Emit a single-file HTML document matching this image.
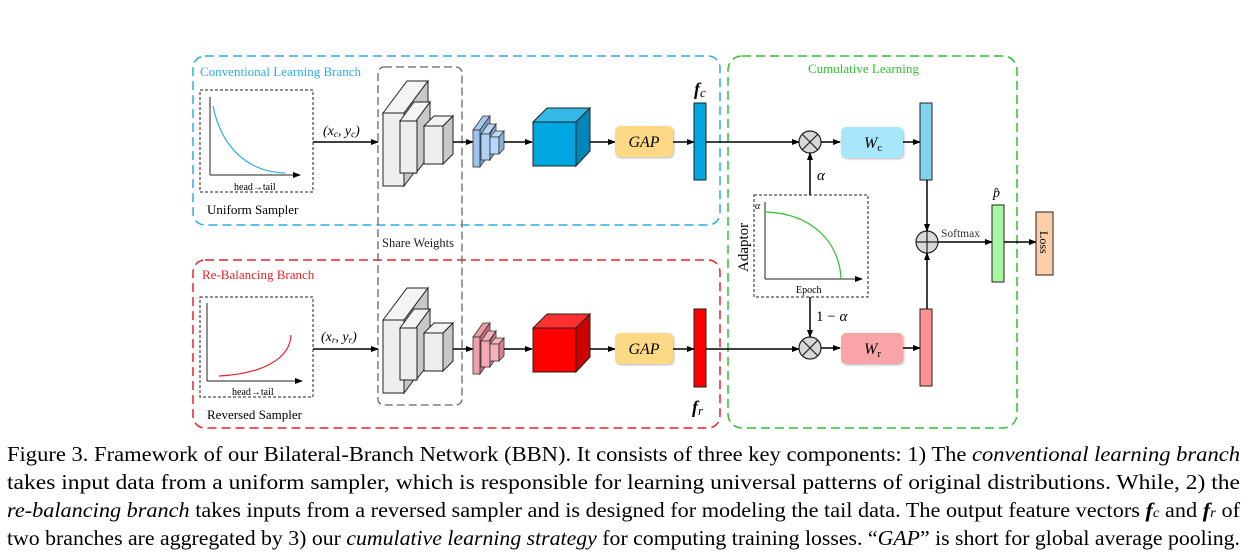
<!DOCTYPE html>
<html><head><meta charset="utf-8"><style>
html,body{margin:0;padding:0;background:#fff;width:1258px;height:557px;overflow:hidden}
svg{display:block}
svg, svg text{font-family:"Liberation Serif","Times New Roman",Times,serif}
</style></head><body>
<svg width="1258" height="557" viewBox="0 0 1258 557" xmlns="http://www.w3.org/2000/svg" font-family="Liberation Serif, Times New Roman, serif">
<defs>
<marker id="ar" markerWidth="8" markerHeight="6" refX="7" refY="3" orient="auto" markerUnits="userSpaceOnUse"><path d="M0,0 L8,3 L0,6 z" fill="#000"/></marker>
<filter id="sh"><feDropShadow dx="1" dy="1" stdDeviation="1" flood-opacity="0.3"/></filter>
</defs>
<rect x="193" y="56" width="527" height="169" rx="12" fill="none" stroke="#29aee6" stroke-width="1.5" stroke-dasharray="9,5"/>
<rect x="193" y="260" width="527" height="168" rx="12" fill="none" stroke="#e8202a" stroke-width="1.5" stroke-dasharray="9,5"/>
<rect x="728" y="56" width="289" height="372" rx="14" fill="none" stroke="#2ec12e" stroke-width="1.5" stroke-dasharray="9,5"/>
<rect x="378" y="67" width="84" height="338" rx="6" fill="none" stroke="#666" stroke-width="1.3" stroke-dasharray="8,4"/>
<text x="200" y="76" font-size="13" fill="#29aee6">Conventional Learning Branch</text>
<text x="202" y="279" font-size="13" fill="#e8202a">Re-Balancing Branch</text>
<text x="808" y="73" font-size="13" fill="#2ec12e">Cumulative Learning</text>
<text x="382" y="247" font-size="12.5" fill="#222">Share Weights</text>

<rect x="200" y="90" width="113" height="102" fill="none" stroke="#222" stroke-dasharray="3,2"/>
<line x1="210" y1="175" x2="300" y2="175" stroke="#222" marker-end="url(#ar)"/>
<line x1="210" y1="175" x2="210" y2="97" stroke="#222"/>
<path d="M213,106 C222,150 250,172 285,173" fill="none" stroke="#29aee6" stroke-width="1.2"/>
<text x="234" y="190" font-size="10">head→tail</text>
<text x="207" y="214" font-size="13">Uniform Sampler</text>
<rect x="200" y="297" width="113" height="100" fill="none" stroke="#222" stroke-dasharray="3,2"/>
<line x1="207" y1="381" x2="302" y2="381" stroke="#222" marker-end="url(#ar)"/>
<line x1="207" y1="381" x2="207" y2="303" stroke="#222"/>
<path d="M219,376 C260,374 290,360 291,335" fill="none" stroke="#e8202a" stroke-width="1.2"/>
<text x="232" y="395" font-size="10">head→tail</text>
<text x="207" y="419" font-size="13">Reversed Sampler</text>

<line x1="313" y1="142" x2="378" y2="142" stroke="#000" stroke-width="1.5" marker-end="url(#ar)"/>
<text x="323" y="135" font-size="14" font-style="italic">(x<tspan font-size="9" dy="2">c</tspan><tspan dy="-2">, y</tspan><tspan font-size="9" dy="2">c</tspan><tspan dy="-2">)</tspan></text>
<line x1="313" y1="349" x2="378" y2="349" stroke="#000" stroke-width="1.5" marker-end="url(#ar)"/>
<text x="321" y="341" font-size="14" font-style="italic">(x<tspan font-size="9" dy="2">r</tspan><tspan dy="-2">, y</tspan><tspan font-size="9" dy="2">r</tspan><tspan dy="-2">)</tspan></text>

<g stroke="#222" stroke-width="1">
<g id="stk">
<polygon points="383,113 407,81 428,81 404,113" fill="#f4f4f4"/>
<polygon points="404,113 428,81 428,154 404,186" fill="#c8c8c8"/>
<rect x="383" y="113" width="21" height="73" fill="#eeeeee"/>
<polygon points="400,121 414,102 430,102 416,121" fill="#f4f4f4"/>
<polygon points="416,121 430,102 430,155 416,173" fill="#c8c8c8"/>
<rect x="400" y="121" width="17" height="52" fill="#eeeeee"/>
<polygon points="424,126 434,116 453,116 443,126" fill="#f4f4f4"/>
<polygon points="443,126 453,116 453,154 443,164" fill="#c8c8c8"/>
<rect x="424" y="126" width="19" height="38" fill="#eeeeee"/>
</g>
<use href="#stk" y="207"/>
</g>
<line x1="453" y1="142" x2="473" y2="142" stroke="#000" stroke-width="1.5" marker-end="url(#ar)"/>
<line x1="453" y1="349" x2="473" y2="349" stroke="#000" stroke-width="1.5" marker-end="url(#ar)"/>
<g stroke="#333" stroke-width="0.8">
<polygon points="473,130 483,116 490,116 480,130" fill="#a8c8ea"/><rect x="473" y="130" width="7" height="37" fill="#9ec3ee"/><polygon points="480,130 490,116 490,153 480,167" fill="#7aa3d0"/>
<polygon points="481,134 488,124 496,124 489,134" fill="#b8d6f5"/><rect x="481" y="134" width="9" height="26" fill="#b0d2f7"/><polygon points="490,134 496,124 496,151 490,160" fill="#8ab2dc"/>
<polygon points="490,137 495,131 504,131 499,137" fill="#c0dcf8"/><rect x="490" y="137" width="9" height="17" fill="#b8d8fb"/><polygon points="499,137 504,131 504,149 499,154" fill="#8ab2dc"/>
<polygon points="473,337 483,323 490,323 480,337" fill="#e89aa5"/><rect x="473" y="337" width="7" height="37" fill="#f0a0ac"/><polygon points="480,337 490,323 490,360 480,374" fill="#c87080"/>
<polygon points="481,341 488,331 496,331 489,341" fill="#f3b0ba"/><rect x="481" y="341" width="9" height="26" fill="#f6a8b4"/><polygon points="490,341 496,331 496,358 490,367" fill="#d88090"/>
<polygon points="490,344 495,338 504,338 499,344" fill="#f6b8c0"/><rect x="490" y="344" width="9" height="17" fill="#f8b0bb"/><polygon points="499,344 504,338 504,356 499,361" fill="#d88090"/>
</g>
<line x1="504" y1="142" x2="532" y2="142" stroke="#000" stroke-width="1.5" marker-end="url(#ar)"/>
<line x1="504" y1="349" x2="532" y2="349" stroke="#000" stroke-width="1.5" marker-end="url(#ar)"/>
<g stroke="#222" stroke-width="1">
<polygon points="533,122 547,108 590,108 576,122" fill="#33b8e8"/>
<rect x="533" y="122" width="43" height="44" fill="#00a6e0"/>
<polygon points="576,122 590,108 590,151 576,166" fill="#0086b8"/>
<polygon points="533,328 547,314 590,314 576,328" fill="#ff3030"/>
<rect x="533" y="328" width="43" height="44" fill="#ff0000"/>
<polygon points="576,328 590,314 590,357 576,372" fill="#cc0000"/>
</g>
<line x1="590" y1="142" x2="615" y2="142" stroke="#000" stroke-width="1.5" marker-end="url(#ar)"/>
<line x1="590" y1="349" x2="615" y2="349" stroke="#000" stroke-width="1.5" marker-end="url(#ar)"/>
<rect x="615" y="126" width="58" height="31" rx="5" fill="#fdd985" filter="url(#sh)"/>
<text x="644" y="147" font-size="16" font-style="italic" text-anchor="middle">GAP</text>
<rect x="615" y="333" width="58" height="31" rx="5" fill="#fdd985" filter="url(#sh)"/>
<text x="644" y="354" font-size="16" font-style="italic" text-anchor="middle">GAP</text>
<line x1="673" y1="142" x2="694" y2="142" stroke="#000" stroke-width="1.5" marker-end="url(#ar)"/>
<line x1="673" y1="349" x2="694" y2="349" stroke="#000" stroke-width="1.5" marker-end="url(#ar)"/>
<rect x="694" y="103" width="12" height="77" fill="#00a6e0" stroke="#222"/>
<rect x="694" y="309" width="12" height="78" fill="#ff0000" stroke="#222"/>
<text x="694" y="95" font-size="18" font-weight="bold" font-style="italic">f<tspan font-size="13" font-weight="normal" dy="2">c</tspan></text>
<text x="692" y="413" font-size="18" font-weight="bold" font-style="italic">f<tspan font-size="13" font-weight="normal" dy="2">r</tspan></text>
<line x1="706" y1="142" x2="799" y2="142" stroke="#000" stroke-width="1.5" marker-end="url(#ar)"/>
<line x1="706" y1="349" x2="799" y2="349" stroke="#000" stroke-width="1.5" marker-end="url(#ar)"/>
<g stroke="#222" stroke-width="1.2">
<circle cx="810" cy="142" r="11" fill="#d8d8d8"/>
<line x1="802" y1="134" x2="818" y2="150"/><line x1="818" y1="134" x2="802" y2="150"/>
<circle cx="810" cy="348" r="11" fill="#d8d8d8"/>
<line x1="802" y1="340" x2="818" y2="356"/><line x1="818" y1="340" x2="802" y2="356"/>
<circle cx="927" cy="242" r="11" fill="#d8d8d8"/>
<line x1="916" y1="242" x2="938" y2="242"/><line x1="927" y1="231" x2="927" y2="253"/>
</g>
<line x1="821" y1="142" x2="840" y2="142" stroke="#000" stroke-width="1.5" marker-end="url(#ar)"/>
<line x1="821" y1="348" x2="840" y2="348" stroke="#000" stroke-width="1.5" marker-end="url(#ar)"/>
<rect x="841" y="127" width="62" height="31" rx="5" fill="#a8e6fb" filter="url(#sh)"/>
<text x="864" y="148" font-size="16" font-style="italic">W<tspan font-size="11" font-style="normal" dy="3">c</tspan></text>
<rect x="841" y="333" width="62" height="31" rx="5" fill="#f8a4a8" filter="url(#sh)"/>
<text x="864" y="354" font-size="16" font-style="italic">W<tspan font-size="11" font-style="normal" dy="3">r</tspan></text>
<line x1="903" y1="142" x2="920" y2="142" stroke="#000" stroke-width="1.5" marker-end="url(#ar)"/>
<line x1="903" y1="348" x2="920" y2="348" stroke="#000" stroke-width="1.5" marker-end="url(#ar)"/>
<rect x="920" y="103" width="12" height="77" fill="#80d2ee" stroke="#222"/>
<rect x="920" y="309" width="12" height="77" fill="#fd8f8f" stroke="#222"/>
<line x1="927" y1="180" x2="927" y2="231" stroke="#000" stroke-width="1.5" marker-end="url(#ar)"/>
<line x1="927" y1="309" x2="927" y2="253" stroke="#000" stroke-width="1.5" marker-end="url(#ar)"/>
<rect x="754" y="195" width="114" height="102" fill="none" stroke="#222" stroke-dasharray="3,2"/>
<line x1="810" y1="195" x2="810" y2="153" stroke="#000" stroke-width="1.5" marker-end="url(#ar)"/>
<line x1="810" y1="297" x2="810" y2="337" stroke="#000" stroke-width="1.5" marker-end="url(#ar)"/>
<text x="817" y="180" font-size="15" font-style="italic">α</text>
<text x="816" y="321" font-size="15">1 − <tspan font-style="italic">α</tspan></text>
<line x1="765" y1="279" x2="862" y2="279" stroke="#222" marker-end="url(#ar)"/>
<line x1="765" y1="279" x2="765" y2="202" stroke="#222"/>
<text x="755" y="209" font-size="10" font-style="italic">α</text>
<path d="M766,212 C815,214 840,245 841,279" fill="none" stroke="#2ec12e" stroke-width="1.2"/>
<text x="796" y="293" font-size="10">Epoch</text>
<text transform="translate(748,272) rotate(-90)" font-size="15">Adaptor</text>
<line x1="938" y1="242" x2="992" y2="242" stroke="#000" stroke-width="1.5" marker-end="url(#ar)"/>
<text x="941" y="237" font-size="11.5" fill="#333">Softmax</text>
<rect x="992" y="205" width="12" height="77" fill="#aaf5a0" stroke="#222"/>
<text x="993" y="197" font-size="14" font-style="italic">p̂</text>
<line x1="1004" y1="242" x2="1036" y2="242" stroke="#000" stroke-width="1.5" marker-end="url(#ar)"/>
<rect x="1036" y="212" width="17" height="63" fill="#fdcfa8" stroke="#222"/>
<text transform="translate(1040,231) rotate(90)" font-size="12">Loss</text>

<g font-size="21" fill="#000">
<text x="7" y="461" textLength="1233" lengthAdjust="spacingAndGlyphs">Figure 3. Framework of our Bilateral-Branch Network (BBN). It consists of three key components: 1) The <tspan font-style="italic">conventional learning branch</tspan></text>
<text x="7" y="489" textLength="1233" lengthAdjust="spacingAndGlyphs">takes input data from a uniform sampler, which is responsible for learning universal patterns of original distributions. While, 2) the</text>
<text x="7" y="517" textLength="1233" lengthAdjust="spacingAndGlyphs"><tspan font-style="italic">re-balancing branch</tspan> takes inputs from a reversed sampler and is designed for modeling the tail data. The output feature vectors <tspan font-weight="bold" font-style="italic">f</tspan><tspan font-style="italic" font-size="14">c</tspan> and <tspan font-weight="bold" font-style="italic">f</tspan><tspan font-style="italic" font-size="14">r</tspan> of</text>
<text x="7" y="545" textLength="1233" lengthAdjust="spacingAndGlyphs">two branches are aggregated by 3) our <tspan font-style="italic">cumulative learning strategy</tspan> for computing training losses. “<tspan font-style="italic">GAP</tspan>” is short for global average pooling.</text>
</g>
</svg>
</body></html>
